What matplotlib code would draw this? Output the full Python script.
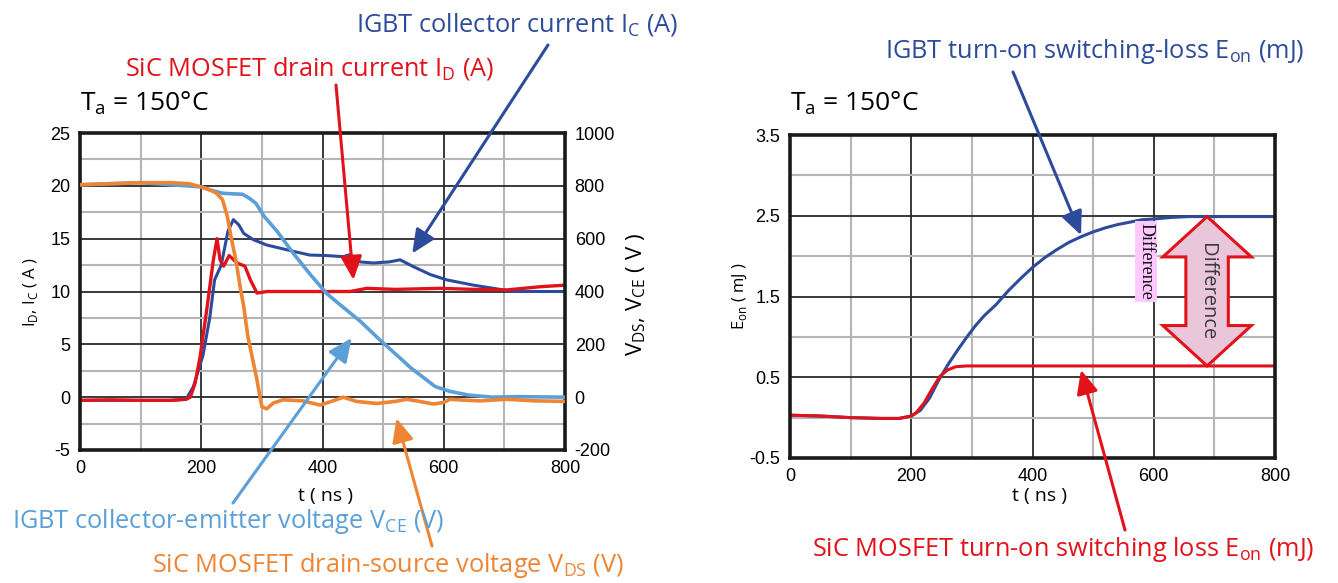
import numpy as np
import matplotlib
matplotlib.use("Agg")
import matplotlib.pyplot as plt
from matplotlib.patches import Polygon

W, H = 1338, 583

# ---- left panel: switching waveforms ----
t_id = [0, 50, 100, 150, 175, 182, 190, 198, 209, 220, 226, 231, 237, 246, 259, 272, 281,
        292, 308, 350, 400, 446, 473, 520, 594, 650, 704, 759, 800]
i_d = [-0.3, -0.25, -0.3, -0.3, -0.2, 0.0, 1.35, 3.8, 8.25, 13.0, 15.0, 13.0, 12.4, 13.4, 12.7,
       12.4, 11.1, 9.85, 10.0, 10.0, 10.0, 10.0, 10.3, 10.2, 10.3, 10.2, 10.15, 10.45, 10.6]

t_ic = [0, 150, 175, 187, 203, 214, 222, 233, 244, 253, 262, 270, 286, 308, 330, 352, 379,
        407, 434, 446, 462, 484, 510, 528, 550, 578, 605, 649, 682, 715, 760, 800]
i_c = [-0.3, -0.3, -0.2, 1.0, 4.0, 7.5, 11.1, 12.5, 15.7, 16.8, 16.3, 15.5, 14.9, 14.4, 14.1,
       13.8, 13.45, 13.4, 13.3, 13.5, 12.8, 12.7, 12.8, 13.0, 12.35, 11.6, 11.1, 10.6, 10.3,
       10.0, 10.0, 10.0]

t_vds = [0, 50, 100, 150, 180, 200, 215, 225, 235, 243, 249, 257, 264, 270, 277, 284, 291,
         296, 300, 308, 319, 335, 350, 368, 396, 420, 434, 456, 489, 520, 539, 560, 583, 600,
         610, 640, 660, 704, 750, 800]
v_ds = [804, 808, 812, 812, 808, 796, 784, 772, 748, 684, 608, 520, 420, 344, 228, 152, 76,
        12, -36, -44, -22, -10, -12, -14, -30, -12, 0, -16, -24, -16, -8, -16, -26, -20,
        -8, -12, -14, -8, -14, -16]

t_vce = [0, 100, 200, 215, 235, 250, 268, 280, 290, 304, 325, 352, 380, 407, 430, 462, 495,
         528, 545, 561, 586, 610, 641, 680, 720, 800]
v_ce = [804, 812, 796, 784, 772, 770, 768, 752, 734, 684, 628, 544, 464, 392, 348, 288, 216,
        148, 112, 84, 40, 22, 8, 0, 2, 0]

# ---- right panel: turn-on energy ----
t_eon_igbt = [0, 50, 100, 150, 180, 200, 215, 230, 245, 260, 275, 290, 305, 320, 340, 360,
              380, 400, 420, 440, 460, 480, 500, 520, 540, 560, 580, 600, 630, 660, 700, 800]
eon_igbt = [0.03, 0.02, 0.0, -0.01, -0.01, 0.02, 0.09, 0.24, 0.46, 0.65, 0.82, 0.98, 1.13,
            1.26, 1.40, 1.57, 1.72, 1.86, 1.98, 2.08, 2.17, 2.24, 2.30, 2.35, 2.39, 2.42,
            2.45, 2.46, 2.48, 2.49, 2.49, 2.49]

t_eon_sic = [0, 50, 100, 150, 180, 200, 208, 221, 234, 247, 260, 273, 292, 320, 400, 800]
eon_sic = [0.03, 0.02, 0.0, -0.01, -0.01, 0.02, 0.06, 0.18, 0.35, 0.51, 0.59, 0.63, 0.64,
           0.64, 0.64, 0.64]

RED = "#e2121b"
DBLUE = "#2d4b9b"
LBLUE = "#5b9fd8"
ORANGE = "#ee8535"

LABELFONT = "Open Sans"
plt.rcParams["font.family"] = ["Liberation Sans", "DejaVu Sans"]
plt.rcParams["mathtext.fontset"] = "custom"
plt.rcParams["axes.unicode_minus"] = False


def fx(px):
    return px / W


def fy(py):
    return 1 - py / H


def style_axes(ax, xmaj, xmin, ymaj, ymin):
    ax.set_xticks(xmaj)
    ax.set_xticks(xmin, minor=True)
    ax.set_yticks(ymaj)
    ax.set_yticks(ymin, minor=True)
    ax.grid(which="minor", color="#b5b5b5", lw=1.5)
    ax.grid(which="major", color="#2a2a2a", lw=1.3)
    ax.set_axisbelow(True)
    ax.tick_params(which="both", length=0, labelsize=13, pad=7)
    for s in ax.spines.values():
        s.set_linewidth(2.6)
        s.set_color("#1a1a1a")


def arrow(ax, xy, tail, color):
    ax.annotate("", xy=xy, xycoords="data", xytext=(fx(tail[0]), fy(tail[1])),
                textcoords="figure fraction",
                arrowprops=dict(arrowstyle="-|>,head_length=0.55,head_width=0.25",
                                color=color, lw=2.2, mutation_scale=26,
                                shrinkA=0, shrinkB=0))


fig = plt.figure(figsize=(W / 100, H / 100), dpi=100)

# left panel
ax1 = fig.add_axes([fx(80), fy(450), 485 / W, 317 / H])
ax1.set_xlim(0, 800)
ax1.set_ylim(-5, 25)
style_axes(ax1, [0, 200, 400, 600, 800], [100, 300, 500, 700],
           [-5, 0, 5, 10, 15, 20, 25], np.arange(-2.5, 25, 5))
ax1.plot(t_ic, i_c, color=DBLUE, lw=2.2)
ax1.plot(t_id, i_d, color=RED, lw=2.4)

ax1b = ax1.twinx()
ax1b.set_ylim(-200, 1000)
ax1b.set_yticks(np.arange(-200, 1001, 200))
ax1b.tick_params(length=0, labelsize=13, pad=7)
for s in ax1b.spines.values():
    s.set_visible(False)
ax1b.plot(t_vce, v_ce, color=LBLUE, lw=2.6)
ax1b.plot(t_vds, v_ds, color=ORANGE, lw=2.6)

# right panel
ax2 = fig.add_axes([fx(790), fy(458), 485 / W, 323 / H])
ax2.set_xlim(0, 800)
ax2.set_ylim(-0.5, 3.5)
style_axes(ax2, [0, 200, 400, 600, 800], [100, 300, 500, 700],
           [-0.5, 0.5, 1.5, 2.5, 3.5], [0, 1, 2, 3])
ax2.plot(t_eon_igbt, eon_igbt, color=DBLUE, lw=2.2)
ax2.plot(t_eon_sic, eon_sic, color=RED, lw=2.2)

# double-headed "Difference" arrow between the two final energies
top, bot = eon_igbt[-1], eon_sic[-1]
cx, hwh, hws, hl = 688, 73, 35, 0.5
verts = [(cx, top), (cx + hwh, top - hl), (cx + hws, top - hl), (cx + hws, bot + hl),
         (cx + hwh, bot + hl), (cx, bot), (cx - hwh, bot + hl), (cx - hws, bot + hl),
         (cx - hws, top - hl), (cx - hwh, top - hl)]
ax2.add_patch(Polygon(verts, closed=True, fc="#e9c6da", ec=RED, lw=2.2, zorder=3))
ax2.text(cx, (top + bot) / 2, "Difference", rotation=-90, ha="center", va="center",
         family=LABELFONT, fontsize=14.5, color="#3a3a3a", zorder=4)
ax2.text(587, 1.93, "Difference", rotation=-90, ha="center", va="center",
         family="Liberation Serif", fontsize=13, color="#111111", zorder=4,
         bbox=dict(boxstyle="square,pad=0.12", fc="#ffc8ff", ec="none"))

# axis labels
fig.text(fx(30), fy(292), r"I$_\mathregular{D}$, I$_\mathregular{C}$ ( A )", rotation=90,
         ha="center", va="center", family=LABELFONT, fontsize=12)
fig.text(fx(636), fy(295), r"V$_\mathregular{DS}$, V$_\mathregular{CE}$ ( V )", rotation=90,
         ha="center", va="center", family=LABELFONT, fontsize=16)
fig.text(fx(740), fy(296), r"E$_\mathregular{on}$ ( mJ )", rotation=90,
         ha="center", va="center", family=LABELFONT, fontsize=12)
fig.text(fx(325), fy(496), "t ( ns )", ha="center", va="center", family=LABELFONT,
         fontsize=14)
fig.text(fx(1040), fy(496), "t ( ns )", ha="center", va="center", family=LABELFONT,
         fontsize=14)
for x0 in (80, 790):
    fig.text(fx(x0), fy(103), r"T$_\mathregular{a}$ = 150°C", ha="left", va="center",
             family=LABELFONT, fontsize=19)

# callouts
CS = 18.3
fig.text(fx(356), fy(25), r"IGBT collector current I$_\mathregular{C}$ (A)", color=DBLUE,
         ha="left", va="center", family=LABELFONT, fontsize=CS)
fig.text(fx(125), fy(68), r"SiC MOSFET drain current I$_\mathregular{D}$ (A)", color=RED,
         ha="left", va="center", family=LABELFONT, fontsize=CS)
fig.text(fx(12), fy(522), r"IGBT collector-emitter voltage V$_\mathregular{CE}$ (V)",
         color=LBLUE, ha="left", va="center", family=LABELFONT, fontsize=CS)
fig.text(fx(152), fy(566), r"SiC MOSFET drain-source voltage V$_\mathregular{DS}$ (V)",
         color=ORANGE, ha="left", va="center", family=LABELFONT, fontsize=CS)
fig.text(fx(885), fy(52), r"IGBT turn-on switching-loss E$_\mathregular{on}$ (mJ)",
         color=DBLUE, ha="left", va="center", family=LABELFONT, fontsize=CS)
fig.text(fx(812), fy(550), r"SiC MOSFET turn-on switching loss E$_\mathregular{on}$ (mJ)",
         color=RED, ha="left", va="center", family=LABELFONT, fontsize=CS)

arrow(ax1, (548, 13.6), (548, 45), DBLUE)
arrow(ax1, (451, 11.1), (336, 85), RED)
arrow(ax1b, (448, 224), (233, 503), LBLUE)
arrow(ax1b, (522, -80), (432, 546), ORANGE)
arrow(ax2, (480, 2.26), (1013, 72), DBLUE)
arrow(ax2, (480, 0.59), (1125, 530), RED)

fig.savefig("out.png", dpi=100)
